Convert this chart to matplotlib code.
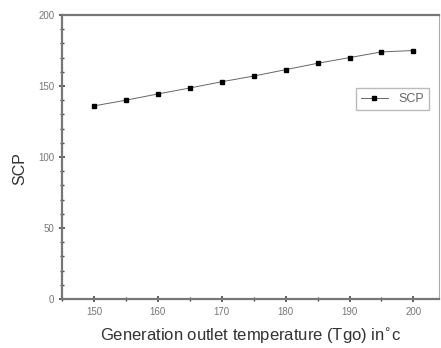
import matplotlib
matplotlib.use("Agg")
import matplotlib.pyplot as plt
from matplotlib.ticker import MultipleLocator

plt.rcParams["font.family"] = ["Liberation Sans", "DejaVu Sans"]

temperature = [150, 155, 160, 165, 170, 175, 180, 185, 190, 195, 200]
scp = [136, 140, 144.4, 148.6, 153, 157, 161.5, 166, 170, 174, 175]

fig = plt.figure(figsize=(4.41, 3.48), dpi=100)
ax = fig.add_axes([62 / 441, 49 / 348, 377 / 441, 284 / 348])

ax.plot(temperature, scp, color="#666666", lw=0.7, marker="s", ms=3.5,
        mfc="black", mec="black", label="SCP")

ax.set_xlim(145, 204)
ax.set_ylim(0, 200)
ax.xaxis.set_major_locator(MultipleLocator(10))
ax.xaxis.set_minor_locator(MultipleLocator(5))
ax.yaxis.set_major_locator(MultipleLocator(50))
ax.yaxis.set_minor_locator(MultipleLocator(10))
ax.tick_params(which="major", direction="inout", length=5, width=1.2,
               labelsize=7, labelcolor="#777777", color="#444444", pad=3)
ax.tick_params(which="minor", direction="inout", length=3, width=1,
               color="#444444")
for side in ["left", "bottom", "top"]:
    ax.spines[side].set_linewidth(1.6)
    ax.spines[side].set_color("#777777")
ax.spines["right"].set_color("#aaaaaa")

ax.set_xlabel("Generation outlet temperature (Tgo) in$^{\\circ}$c",
              fontsize=12, color="#333333", labelpad=7)
ax.set_ylabel("SCP", fontsize=11.5, color="#333333")
ax.yaxis.set_label_coords(-0.093, 0.46)

leg = ax.legend(loc="upper right", bbox_to_anchor=(0.99, 0.765), fontsize=9,
                fancybox=False, framealpha=1, edgecolor="#bbbbbb",
                handlelength=2.2, borderpad=0.4)
for t in leg.get_texts():
    t.set_color("#666666")

fig.savefig("out.png", dpi=100)
